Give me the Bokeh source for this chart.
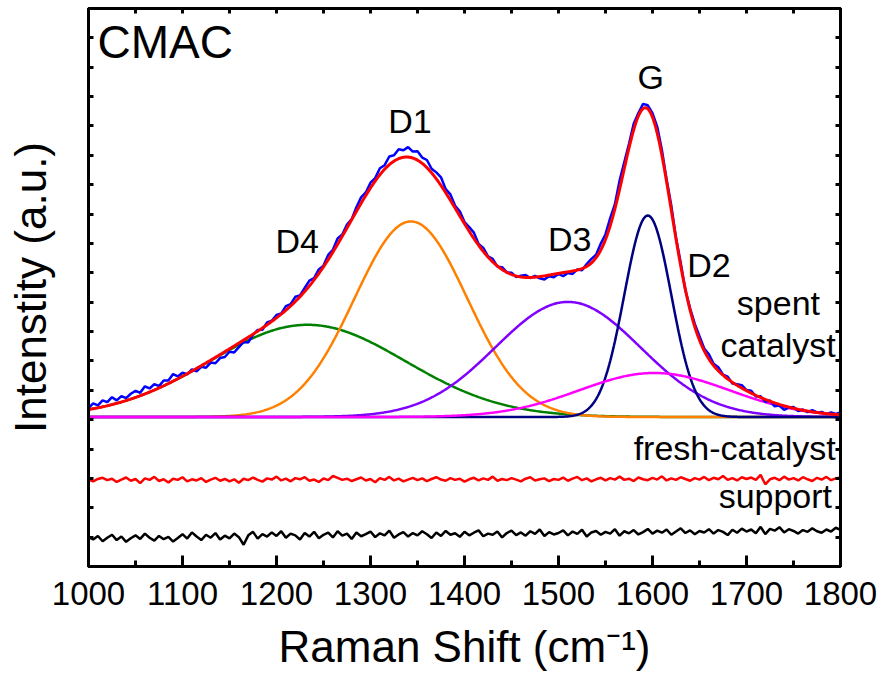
import numpy as np
from bokeh.plotting import figure
from bokeh.models import Range1d, FixedTicker, LinearAxis
from bokeh.core.properties import value
from bokeh.embed import file_html
from bokeh.resources import INLINE

# ---------------- data ----------------
# Raman shift grid of the measured spectra (cm-1), every 5 cm-1
shift = list(range(1000, 1801, 5))

# fitted bands: centre (cm-1), height (a.u.), width sigma (cm-1)
band_names = ["D4", "D1", "D3", "G", "D2"]
band_centers = [1233, 1343, 1510, 1595, 1602]
band_heights = [3.14, 6.66, 3.92, 6.86, 1.50]
band_sigmas = [104, 60, 77, 25, 80]
band_colors = ["#008000", "#FF8000", "#8000FF", "#000080", "#FF00FF"]

spent_baseline = 5.09

# spent catalyst: deviation of the measured spectrum from the fit (a.u.)
spent_residual = [
    0.05, 0.18, 0.08, 0.22, 0.12, 0.25, 0.10, 0.20, 0.08, 0.18,
    0.22, 0.10, 0.26, 0.12, 0.20, 0.06, 0.18, 0.10, 0.24, 0.08,
    0.12, -0.02, 0.06, -0.10, -0.04, -0.16, -0.08, -0.20, -0.12, -0.18,
    -0.10, -0.22, -0.14, -0.06, -0.18, -0.02, 0.04, -0.06, 0.08, 0.02,
    0.10, 0.02, 0.14, 0.06, 0.16, 0.04, 0.12, 0.18, 0.06, 0.14,
    0.04, 0.16, 0.08, 0.20, 0.06, 0.12, 0.02, 0.14, 0.20, 0.10,
    0.18, 0.10, 0.22, 0.14, 0.28, 0.20, 0.32, 0.24, 0.34, 0.22,
    0.30, 0.20, 0.26, 0.14, 0.22, 0.28, 0.12, 0.20, 0.08, 0.16,
    0.06, 0.14, 0.20, 0.04, 0.12, 0.02, 0.10, -0.02, 0.08, 0.00,
    0.06, -0.04, 0.04, 0.08, -0.02, 0.04, -0.06, -0.12, -0.04, -0.10,
    -0.02, -0.12, -0.04, -0.10, 0.02, -0.06, 0.08, 0.14, 0.10, 0.22,
    0.18, 0.26, 0.16, 0.30, 0.22, 0.14, 0.20, 0.10, 0.16, 0.12,
    0.14, 0.22, 0.18, 0.08, 0.16, 0.04, 0.10, -0.02, 0.06, 0.10,
    0.14, 0.08, 0.16, 0.06, 0.12, 0.02, 0.08, -0.04, 0.04, 0.10,
    0.02, 0.08, -0.04, 0.04, -0.08, 0.02, -0.12, -0.04, -0.14, -0.02,
    0.04, -0.06, 0.02, -0.04, 0.06, 0.00, 0.04, -0.02, 0.06, 0.02,
    0.08,
]

fresh_catalyst = [
    2.96, 2.90, 2.98, 3.02, 2.94, 2.99, 2.88, 2.96, 3.03, 2.92,
    2.98, 2.84, 3.00, 2.95, 3.05, 2.91, 2.97, 2.86, 2.99, 2.95,
    3.04, 2.90, 2.97, 2.93, 3.01, 2.88, 2.96, 3.02, 2.92, 2.98,
    2.90, 2.97, 2.85, 2.99, 2.94, 3.03, 2.95, 2.89, 3.00, 2.96,
    3.06, 2.93, 2.99, 2.90, 3.01, 2.97, 3.04, 2.92, 2.96, 2.88,
    3.00, 2.94, 3.08, 3.02, 2.95, 2.99, 2.91, 2.97, 3.03, 2.93,
    2.98, 2.87, 3.01, 2.95, 3.05, 2.93, 2.99, 2.90, 2.96, 3.02,
    2.94, 3.00, 2.91, 2.98, 3.04, 2.96, 2.92, 3.01, 2.95, 2.99,
    2.89, 2.97, 3.02, 2.93, 3.00, 2.95, 3.06, 2.92, 2.98, 2.94,
    3.01, 2.96, 2.90, 2.99, 3.04, 2.93, 2.97, 3.00, 2.91, 2.98,
    2.95, 3.03, 2.92, 2.99, 3.05, 2.94, 3.00, 2.90, 2.97, 3.02,
    2.93, 3.01, 2.96, 3.06, 2.95, 2.99, 2.91, 3.03, 2.97, 2.94,
    3.02, 2.96, 3.07, 2.93, 3.00, 2.95, 3.04, 2.98, 2.92, 3.01,
    2.96, 3.05, 2.94, 3.02, 2.97, 3.08, 2.95, 3.01, 2.93, 3.04,
    2.98, 3.03, 2.95, 3.12, 2.80, 2.97, 3.02, 2.94, 3.06, 2.96,
    3.01, 2.93, 3.04, 2.97, 2.91, 3.02, 2.96, 3.05, 2.94, 3.00,
    3.03,
]

support = [
    1.00, 0.92, 1.04, 0.86, 0.98, 1.08, 0.90, 1.02, 0.84, 0.96,
    1.06, 0.94, 1.12, 0.98, 0.88, 1.04, 0.93, 1.01, 0.85, 0.97,
    1.10, 0.95, 1.16, 1.02, 0.90, 1.08, 0.98, 1.14, 0.92, 1.05,
    0.96, 1.12, 1.00, 0.74, 1.06, 1.18, 0.95, 1.10, 1.02, 1.16,
    1.04, 1.20, 0.98, 1.12, 1.06, 0.92, 1.14, 1.02, 1.18, 0.96,
    1.08, 1.15, 0.99, 1.20, 1.05, 1.12, 0.94, 1.16, 1.03, 1.10,
    1.19, 1.00, 1.13, 1.06, 1.22, 0.98, 1.09, 1.17, 1.02, 1.14,
    1.06, 1.20, 1.10, 0.97, 1.16, 1.04, 1.21, 1.08, 1.13, 1.01,
    1.18, 1.06, 1.15, 1.23, 1.03, 1.12, 1.08, 1.19, 0.99, 1.14,
    1.22, 1.07, 1.16, 1.05, 1.20, 1.11, 1.26, 1.04, 1.17, 1.09,
    1.14, 1.23, 1.06, 1.19, 1.11, 1.25, 1.02, 1.16, 1.21, 1.08,
    1.18, 1.12, 1.27, 1.05, 1.20, 1.13, 1.24, 1.09, 1.17, 1.28,
    1.12, 1.22, 1.15, 1.26, 1.08, 1.19, 1.30, 1.14, 1.23, 1.10,
    1.21, 1.16, 1.27, 1.12, 1.24, 1.18, 1.07, 1.25, 1.15, 1.29,
    1.19, 1.26, 1.13, 1.35, 1.10, 1.28, 1.22, 1.34, 1.16, 1.27,
    1.21, 1.12, 1.24, 1.18, 1.30, 1.20, 1.15, 1.26, 1.19, 1.32,
    1.25,
]

x_ticks = list(range(1000, 1801, 100))
x_minor = list(range(1050, 1800, 100))
x_top_ticks = list(range(1000, 1801, 50))
y_ticks = list(range(1, 19))

# text annotations
peak_label_text = ["D4", "D1", "D3", "G", "D2"]
peak_label_x = [1222, 1342, 1512, 1598, 1660]
peak_label_y = [11.1, 15.18, 11.15, 16.68, 10.26]
side_label_text = ["catalyst", "fresh-catalyst", "support"]
side_label_x = [1795, 1795, 1791]
side_label_y = [7.53, 4.02, 2.41]

# ---------------- model curves ----------------
def band(xs, c, h, s):
    xs = np.asarray(xs, dtype=float)
    return h * np.exp(-((xs - c) ** 2) / (2.0 * s * s))

fine = np.arange(1000, 1800.5, 1.0)
shift_arr = np.asarray(shift, dtype=float)

fit_fine = np.full_like(fine, spent_baseline)
fit_grid = np.full_like(shift_arr, spent_baseline)
for c, h, s in zip(band_centers, band_heights, band_sigmas):
    fit_fine = fit_fine + band(fine, c, h, s)
    fit_grid = fit_grid + band(shift_arr, c, h, s)
spent_measured = fit_grid + np.asarray(spent_residual)

# ---------------- figure ----------------
FONT = "Liberation Sans"
p = figure(frame_width=752, frame_height=558,
           x_range=Range1d(1000, 1800), y_range=Range1d(0, 19),
           output_backend="svg", toolbar_location=None,
           min_border_left=88, min_border_right=45,
           min_border_top=8, min_border_bottom=131,
           background_fill_color="white", border_fill_color="white")
p.grid.visible = False
p.outline_line_color = "black"
p.outline_line_width = 3

# bottom axis
xa = p.xaxis[0]
xa.ticker = FixedTicker(ticks=x_ticks, minor_ticks=x_minor)
xa.major_tick_in = 11
xa.major_tick_out = 0
xa.minor_tick_in = 6
xa.minor_tick_out = 0
xa.axis_line_width = 3
xa.major_tick_line_width = 3
xa.minor_tick_line_width = 3
xa.major_label_text_font = FONT
xa.major_label_text_font_size = "33px"
xa.major_label_text_color = "black"
xa.major_label_standoff = 15
xa.axis_label = "Raman Shift (cm\u207b\u00b9)"
xa.axis_label_text_font = FONT
xa.axis_label_text_font_size = "44px"
xa.axis_label_text_font_style = "normal"
xa.axis_label_text_color = "black"
xa.axis_label_standoff = 14

# left axis: ticks only (drawn as minor ticks so no tick labels exist)
ya = p.yaxis[0]
ya.ticker = FixedTicker(ticks=[], minor_ticks=y_ticks)
ya.major_tick_in = 0
ya.major_tick_out = 0
ya.minor_tick_in = 5
ya.minor_tick_out = 0
ya.axis_line_width = 3
ya.minor_tick_line_width = 3
ya.major_label_standoff = 0
ya.axis_label = "Intenstity (a.u.)"
ya.axis_label_text_font = FONT
ya.axis_label_text_font_size = "44px"
ya.axis_label_text_font_style = "normal"
ya.axis_label_text_color = "black"
ya.axis_label_standoff = 34

# top & right axes (ticks only)
top = LinearAxis(ticker=FixedTicker(ticks=[], minor_ticks=x_top_ticks),
                 major_tick_in=0, major_tick_out=0, minor_tick_in=5, minor_tick_out=0,
                 axis_line_width=3, minor_tick_line_width=3, major_label_standoff=0)
p.add_layout(top, "above")
right = LinearAxis(ticker=FixedTicker(ticks=[], minor_ticks=y_ticks),
                   major_tick_in=0, major_tick_out=0, minor_tick_in=5, minor_tick_out=0,
                   axis_line_width=3, minor_tick_line_width=3, major_label_standoff=0)
p.add_layout(right, "right")

# lower spectra
p.line(shift, support, line_color="black", line_width=2.5)
p.line(shift, fresh_catalyst, line_color="#FF0000", line_width=2.5)

# fitted components
for c, h, s, col in zip(band_centers, band_heights, band_sigmas, band_colors):
    p.line(fine, spent_baseline + band(fine, c, h, s), line_color=col, line_width=2.5)

# measured spectrum and cumulative fit
p.line(shift_arr, spent_measured, line_color="#0000FF", line_width=2.5)
p.line(fine, fit_fine, line_color="#FF0000", line_width=3)

# labels
p.text(x=peak_label_x, y=peak_label_y, text=peak_label_text,
       text_font=value(FONT), text_font_size=value("34px"),
       text_align="center", text_baseline="alphabetic", text_color="black")
p.text(x=[1009.6], y=[17.85], text=["CMAC"], text_font=value(FONT),
       text_font_size=value("46px"), text_align="left",
       text_baseline="alphabetic", text_color="black")
p.text(x=[1734], y=[8.96], text=["spent"], text_font=value(FONT),
       text_font_size=value("34px"), text_align="center",
       text_baseline="alphabetic", text_color="black")
p.text(x=side_label_x, y=side_label_y, text=side_label_text, text_font=value(FONT),
       text_font_size=value("34px"), text_align="right",
       text_baseline="alphabetic", text_color="black")

open("out.html", "w").write(file_html(p, INLINE))
